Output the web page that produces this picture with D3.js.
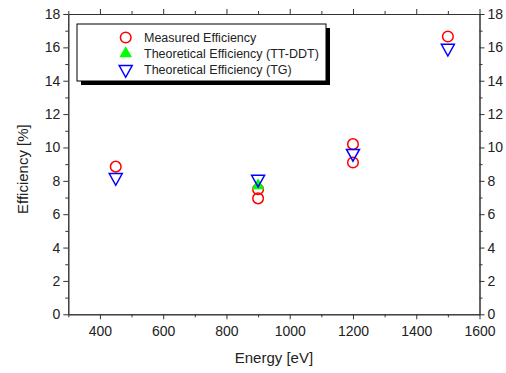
<!DOCTYPE html>
<html><head><meta charset="utf-8">
<script src="https://cdn.jsdelivr.net/npm/d3@7"></script>
<style>body{margin:0;background:#fff}svg{display:block}text{font-family:"Liberation Sans",Arial,sans-serif;fill:#222}</style>
</head><body><svg id="c" width="506" height="373"></svg>
<script>
const measuredX = [450, 900, 900, 1200, 1200, 1500];
const measuredY = [8.85, 7.5, 6.95, 10.2, 9.1, 16.65];
const ttddtX = [900];
const ttddtY = [7.72];
const tgX = [450, 900, 1200, 1500];
const tgY = [8.2, 8.1, 9.65, 15.95];
const xTicks = [400, 600, 800, 1000, 1200, 1400, 1600];
const yTicks = [0, 2, 4, 6, 8, 10, 12, 14, 16, 18];
const legendLabels = ["Measured Efficiency", "Theoretical Efficiency (TT-DDT)", "Theoretical Efficiency (TG)"];

const svg = d3.select("#c");
const L = 68.3, R = 479.5, T = 14, B = 314.3;
const x = d3.scaleLinear().domain([300, 1600]).range([L, R]);
const y = d3.scaleLinear().domain([0, 18]).range([B, T]);
const axisColor = "#333";
const xMinor = d3.range(300, 1601, 100).filter(v => !xTicks.includes(v));
const yMinor = d3.range(1, 18, 2);

function styleAxis(g) {
  g.select(".domain").attr("stroke", axisColor).attr("stroke-width", 1);
  g.selectAll(".tick line").attr("stroke", axisColor);
  g.selectAll("text").style("font-size", "14px").attr("fill", "#222");
}
// bottom
svg.append("g").attr("transform", `translate(0,${B})`)
  .call(d3.axisBottom(x).tickValues(xTicks).tickSize(5).tickSizeOuter(0).tickPadding(7).tickFormat(d3.format("d")))
  .call(styleAxis);
svg.append("g").attr("transform", `translate(0,${B})`)
  .call(d3.axisBottom(x).tickValues(xMinor).tickSize(3).tickSizeOuter(0).tickFormat(""))
  .call(styleAxis);
// top
svg.append("g").attr("transform", `translate(0,${T})`)
  .call(d3.axisTop(x).tickValues(xTicks).tickSize(5).tickSizeOuter(0).tickFormat(""))
  .call(styleAxis);
svg.append("g").attr("transform", `translate(0,${T})`)
  .call(d3.axisTop(x).tickValues(xMinor).tickSize(3).tickSizeOuter(0).tickFormat(""))
  .call(styleAxis);
// left
svg.append("g").attr("transform", `translate(${L},0)`)
  .call(d3.axisLeft(y).tickValues(yTicks).tickSize(5).tickSizeOuter(0).tickPadding(3))
  .call(styleAxis);
svg.append("g").attr("transform", `translate(${L},0)`)
  .call(d3.axisLeft(y).tickValues(yMinor).tickSize(3).tickSizeOuter(0).tickFormat(""))
  .call(styleAxis);
// right
svg.append("g").attr("transform", `translate(${R},0)`)
  .call(d3.axisRight(y).tickValues(yTicks).tickSize(5).tickSizeOuter(0).tickPadding(3))
  .call(styleAxis);
svg.append("g").attr("transform", `translate(${R},0)`)
  .call(d3.axisRight(y).tickValues(yMinor).tickSize(3).tickSizeOuter(0).tickFormat(""))
  .call(styleAxis);

// titles
svg.append("text").attr("x", (L + R) / 2).attr("y", 363).attr("text-anchor", "middle")
  .style("font-size", "15px").text("Energy [eV]");
svg.append("text").attr("transform", `translate(28,${(T + B) / 2 + 5}) rotate(-90)`).attr("text-anchor", "middle")
  .style("font-size", "15px").text("Efficiency [%]");

// markers
const triUp = d3.symbol().type(d3.symbolTriangle).size(70);
function triDown(cx, cy, s) {
  const h = s * 0.9;
  return `M${cx - s / 2},${cy - h / 3}L${cx + s / 2},${cy - h / 3}L${cx},${cy + 2 * h / 3}Z`;
}
const plot = svg.append("g");
function drawCircle(g, cx, cy) {
  g.append("circle").attr("cx", cx).attr("cy", cy).attr("r", 5.3)
    .attr("fill", "none").attr("stroke", "#ff0000").attr("stroke-width", 1.5);
}
function drawTriUp(g, cx, cy) {
  g.append("path").attr("d", triUp()).attr("transform", `translate(${cx},${cy})`).attr("fill", "#00ff00");
}
function drawTriDown(g, cx, cy) {
  g.append("path").attr("d", triDown(cx, cy, 13)).attr("fill", "none")
    .attr("stroke", "#0000ff").attr("stroke-width", 1.5).attr("stroke-linejoin", "miter");
}
measuredX.forEach((v, i) => drawCircle(plot, x(v), y(measuredY[i])));
ttddtX.forEach((v, i) => drawTriUp(plot, x(v), y(ttddtY[i])));
tgX.forEach((v, i) => drawTriDown(plot, x(v), y(tgY[i])));

// legend
const lg = svg.append("g");
const lx = 77, ly = 24, lw = 249, lh = 57;
lg.append("rect").attr("x", lx + 4).attr("y", ly + 4).attr("width", lw).attr("height", lh).attr("fill", "#000");
lg.append("rect").attr("x", lx).attr("y", ly).attr("width", lw).attr("height", lh)
  .attr("fill", "#fff").attr("stroke", "#000").attr("stroke-width", 1);
const rowY = [37.5, 53.5, 69.5];
drawCircle(lg, 125.7, rowY[0]);
drawTriUp(lg, 125.7, rowY[1]);
drawTriDown(lg, 125.7, rowY[2]);
legendLabels.forEach((t, i) => {
  lg.append("text").attr("x", 144).attr("y", rowY[i] + 4.5).style("font-size", "12.5px").text(t);
});
</script></body></html>
